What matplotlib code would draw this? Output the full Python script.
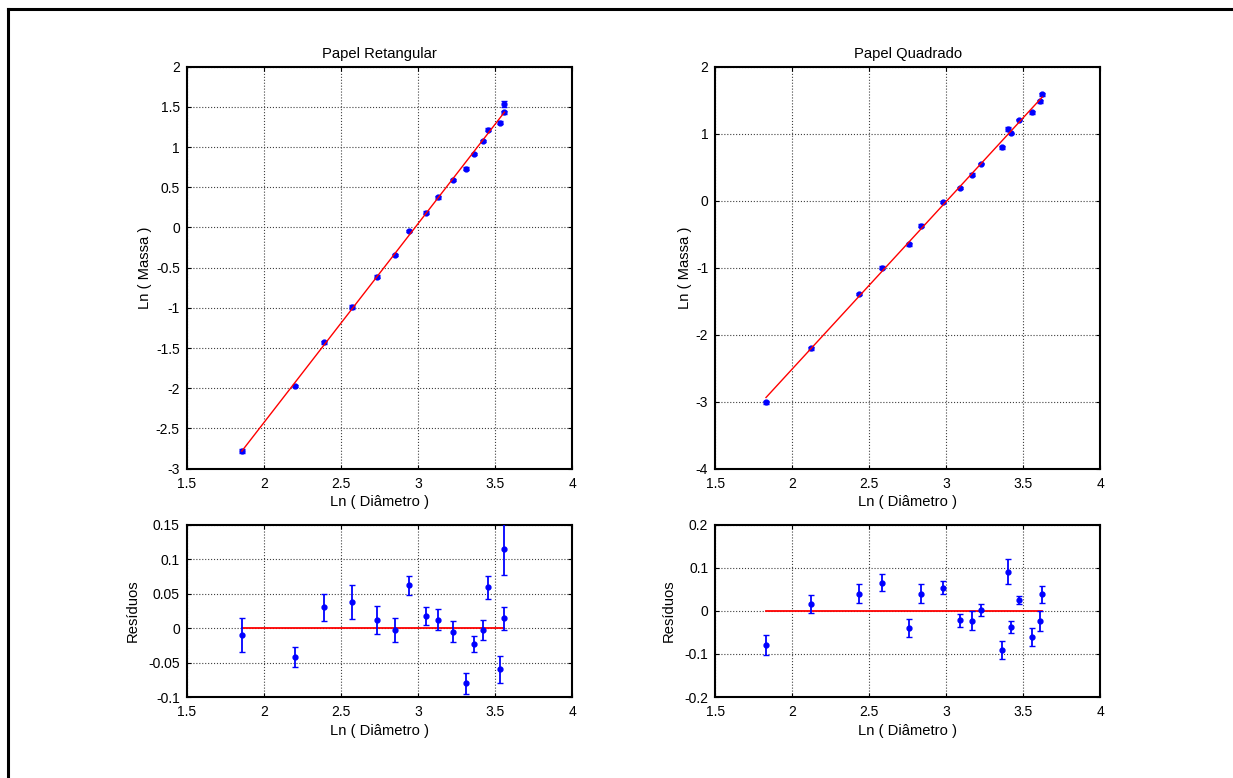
import matplotlib
matplotlib.use("Agg")
import matplotlib.pyplot as plt
import numpy as np
from matplotlib.lines import Line2D

plt.rcParams['font.family'] = ['Liberation Sans', 'DejaVu Sans']

# Papel Retangular
x_ret = [1.857, 2.199, 2.392, 2.569, 2.732, 2.848, 2.944, 3.054, 3.130,
         3.229, 3.312, 3.366, 3.420, 3.455, 3.535, 3.556, 3.561]
y_ret = [-2.783, -1.975, -1.429, -0.990, -0.613, -0.344, -0.046, 0.186, 0.373,
         0.592, 0.733, 0.915, 1.072, 1.217, 1.300, 1.433, 1.540]
res_ret = [-0.010, -0.042, 0.030, 0.038, 0.012, -0.003, 0.062, 0.018, 0.012,
           -0.005, -0.080, -0.023, -0.003, 0.059, -0.060, 0.014, 0.114]
err_ret = [0.024, 0.015, 0.020, 0.025, 0.020, 0.017, 0.014, 0.013, 0.015,
           0.015, 0.015, 0.012, 0.014, 0.017, 0.019, 0.017, 0.037]

# Papel Quadrado
x_qua = [1.830, 2.120, 2.433, 2.582, 2.757, 2.835, 2.977, 3.090, 3.169,
         3.223, 3.359, 3.400, 3.422, 3.474, 3.555, 3.605, 3.622]
y_qua = [-3.010, -2.202, -1.393, -0.999, -0.649, -0.374, -0.015, 0.195, 0.384,
         0.554, 0.794, 1.073, 1.003, 1.208, 1.318, 1.483, 1.588]
res_qua = [-0.080, 0.016, 0.040, 0.065, -0.040, 0.040, 0.054, -0.022, -0.023,
           0.003, -0.091, 0.091, -0.037, 0.025, -0.061, -0.024, 0.038]
err_qua = [0.023, 0.020, 0.022, 0.020, 0.021, 0.022, 0.016, 0.015, 0.022,
           0.014, 0.020, 0.029, 0.014, 0.010, 0.021, 0.023, 0.020]

titles = ["Papel Retangular", "Papel Quadrado"]
xticks = [1.5, 2, 2.5, 3, 3.5, 4]
yticks_top = [np.arange(-3, 2.01, 0.5), np.arange(-4, 2.01, 1)]
yticks_res = [np.arange(-0.1, 0.151, 0.05), np.arange(-0.2, 0.201, 0.1)]

FS = 10
FL = 10.6


def style_axes(ax, yt):
    ax.set_xlim(1.5, 4)
    ax.set_ylim(yt[0], yt[-1])
    ax.set_xticks(xticks)
    ax.set_xticklabels(['%g' % v for v in xticks])
    ax.set_yticks(yt)
    ax.set_yticklabels(['%g' % round(v, 3) for v in yt])
    ax.tick_params(direction='in', length=3, top=True, right=True,
                   labelsize=FS)
    ax.tick_params(axis='x', pad=6)
    ax.tick_params(axis='y', pad=5)
    ax.grid(True, linestyle=':', color='0.25', linewidth=0.8)
    ax.set_axisbelow(True)
    for s in ax.spines.values():
        s.set_linewidth(1.5)


fig = plt.figure(figsize=(12.33, 7.78), dpi=100)

lefts = [0.1515, 0.58]
W = 0.3125
data = [(x_ret, y_ret, res_ret, err_ret), (x_qua, y_qua, res_qua, err_qua)]

for i, (x, y, r, e) in enumerate(data):
    x = np.array(x)
    y = np.array(y)
    # ajuste linear
    a, b = np.polyfit(x, y, 1)
    xs = np.array([x.min(), x.max()])

    ax = fig.add_axes([lefts[i], 0.3976, W, 0.5167])
    ax.errorbar(x, y, yerr=e, fmt='o', color='blue', markersize=3.5,
                capsize=2.5, elinewidth=1, capthick=1, zorder=3)
    ax.plot(xs, a * xs + b, color='red', linewidth=1, zorder=4)
    style_axes(ax, yticks_top[i])
    ax.set_title(titles[i], fontsize=FL, pad=6)
    ax.set_xlabel("Ln ( Diâmetro )", fontsize=FL, labelpad=3)
    ax.set_ylabel("Ln ( Massa )", fontsize=FL, labelpad=3)

    axr = fig.add_axes([lefts[i], 0.1041, W, 0.2215])
    axr.plot(xs, [0, 0], color='red', linewidth=1.3, zorder=2)
    axr.errorbar(x, r, yerr=e, fmt='o', color='blue', markersize=3.5,
                 capsize=2.5, elinewidth=1.3, capthick=1, zorder=3)
    style_axes(axr, yticks_res[i])
    axr.set_xlabel("Ln ( Diâmetro )", fontsize=FL, labelpad=3)
    axr.set_ylabel("Resíduos", fontsize=FL, labelpad=6)

# moldura (só topo e esquerda visíveis)
fig.add_artist(Line2D([8 / 1233, 1], [1 - 9 / 778, 1 - 9 / 778],
                      color='black', linewidth=2.2))
fig.add_artist(Line2D([8 / 1233, 8 / 1233], [0, 1 - 9 / 778],
                      color='black', linewidth=2.2))

fig.savefig("out.png", dpi=100)
